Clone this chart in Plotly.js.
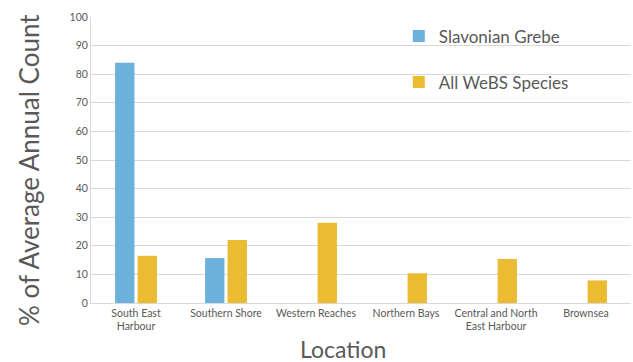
<!DOCTYPE html>
<html><head><meta charset="utf-8">
<script src="https://cdn.plot.ly/plotly-3.0.1.min.js"></script>
<style>body{margin:0;padding:0;}#chart{width:633px;height:362px;}</style>
</head><body><div id="chart"></div>
<script>
const categories = ["South East<br>Harbour", "Southern Shore", "Western Reaches", "Northern Bays", "Central and North<br>East Harbour", "Brownsea"];
const slavonianGrebe = [84, 15.7, null, null, null, null];
const allWebs = [16.5, 22, 28.1, 10.4, 15.4, 7.9];
const yTicks = [0, 10, 20, 30, 40, 50, 60, 70, 80, 90, 100];
const xTitle = 'Location';
const yTitle = '% of Average Annual Count';

const fontFam = "Lato, 'Open Sans', sans-serif";
const traces = [
  {type: 'bar', name: 'Slavonian Grebe', x: categories, y: slavonianGrebe, marker: {color: '#6bb1dc'}, legendgroup: 'a'},
  {type: 'bar', name: 'All WeBS Species', x: categories, y: allWebs, marker: {color: '#ebbb32'}, legendgroup: 'b'}
];
const layout = {
  width: 633, height: 362,
  margin: {l: 91, r: 2, t: 17, b: 59},
  paper_bgcolor: '#ffffff', plot_bgcolor: '#ffffff',
  barmode: 'group', bargap: 0.5, bargroupgap: 0.14,
  font: {family: fontFam, color: '#595959'},
  showlegend: true,
  legend: {x: 0.57, y: 0.995, xanchor: 'left', yanchor: 'top', font: {size: 17, color: '#595959'}, tracegroupgap: 21, bgcolor: 'rgba(0,0,0,0)'},
  xaxis: {
    tickfont: {size: 10.5, color: '#595959'},
    showline: true, linecolor: '#d9d9d9', linewidth: 1, ticks: '', showgrid: false
  },
  yaxis: {
    range: [0, 100], tickvals: yTicks, ticktext: yTicks.map(String),
    tickfont: {size: 10.5, color: '#595959'},
    showgrid: true, gridcolor: '#d9d9d9', gridwidth: 1,
    showline: true, linecolor: '#d9d9d9', zeroline: false, ticks: ''
  },
  annotations: [
    {text: xTitle, xref: 'paper', yref: 'paper', x: 0.4675, y: -0.162, xanchor: 'center', yanchor: 'middle', showarrow: false, font: {size: 23, color: '#595959'}},
    {text: yTitle, xref: 'paper', yref: 'paper', x: -0.115, y: 0.465, xanchor: 'center', yanchor: 'middle', textangle: -90, showarrow: false, font: {size: 26, color: '#595959'}}
  ]
};
Plotly.newPlot('chart', traces, layout, {displayModeBar: false, staticPlot: true});
</script>
</body></html>
